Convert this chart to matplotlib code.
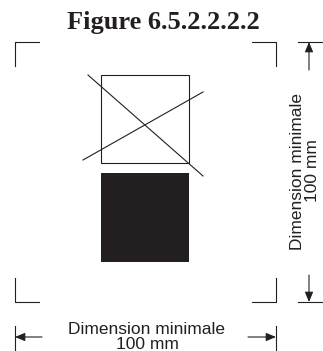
import matplotlib.pyplot as plt
from matplotlib.patches import Rectangle

# geometry in pixels (x right, y down)
W, H = 323, 351
ink = "#231f20"

title = "Figure 6.5.2.2.2.2"
dim_label = "Dimension minimale\n100 mm"

# crop marks: (corner x, corner y, dx, dy)
corners = [(15, 42, 24, 24), (276, 42, -24, 24), (15, 302, 24, -24), (276, 302, -24, -24)]

# squares
open_sq = [101, 75, 88, 88]
full_sq = [101, 173, 88, 89]
cross_a = [(88, 75), (203, 176)]
cross_b = [(83, 160), (203, 92)]

fig = plt.figure(figsize=(W / 100, H / 100), dpi=100)
ax = fig.add_axes([0, 0, 1, 1])
ax.set_xlim(0, W)
ax.set_ylim(H, 0)
ax.axis("off")

lw = 0.8
for cx, cy, dx, dy in corners:
    ax.plot([cx + dx, cx, cx], [cy, cy, cy + dy], color=ink, lw=lw)

ax.add_patch(Rectangle(open_sq[:2], open_sq[2], open_sq[3], fill=False, ec=ink, lw=lw))
ax.add_patch(Rectangle(full_sq[:2], full_sq[2], full_sq[3], fc=ink, ec="none"))
for seg in (cross_a, cross_b):
    ax.plot([seg[0][0], seg[1][0]], [seg[0][1], seg[1][1]], color=ink, lw=lw)

arrow = dict(arrowstyle="-|>,head_length=0.6,head_width=0.25", color=ink, lw=lw,
             mutation_scale=10, shrinkA=0, shrinkB=0)

# right dimension
ax.plot([298, 322], [42, 42], color=ink, lw=lw)
ax.plot([298, 322], [302, 302], color=ink, lw=lw)
ax.annotate("", xy=(309, 42), xytext=(309, 70), arrowprops=arrow)
ax.annotate("", xy=(309, 302), xytext=(309, 275), arrowprops=arrow)
ax.text(305, 171, dim_label, rotation=90, ha="center", va="center",
        fontsize=12.5, family="Liberation Sans", color=ink, linespacing=0.95)

# bottom dimension
ax.plot([15, 15], [326, 351], color=ink, lw=lw)
ax.plot([276, 276], [326, 351], color=ink, lw=lw)
ax.annotate("", xy=(15, 337), xytext=(42, 337), arrowprops=arrow)
ax.annotate("", xy=(276, 337), xytext=(248, 337), arrowprops=arrow)
ax.text(147, 337, dim_label, ha="center", va="center",
        fontsize=12.5, family="Liberation Sans", color=ink, linespacing=0.95)

ax.text(163, 22, title, ha="center", va="center", fontsize=19,
        family="Liberation Serif", weight="bold", color=ink)

fig.savefig("out.png", dpi=100)
